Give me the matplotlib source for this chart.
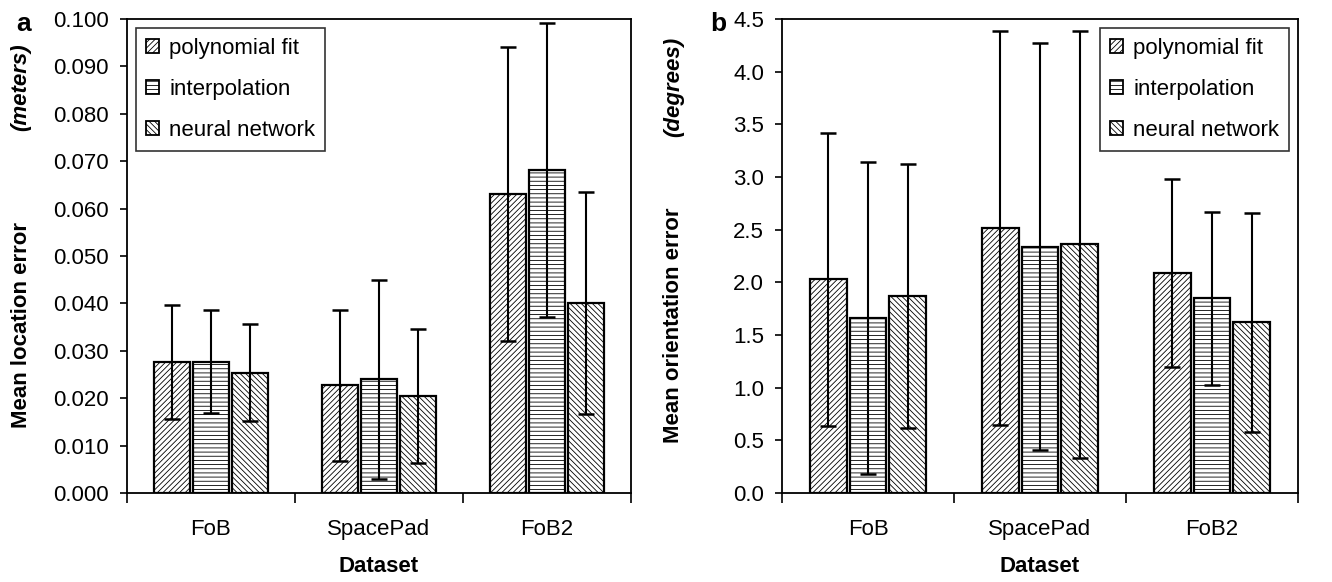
import matplotlib.pyplot as plt
import numpy as np

plt.rcParams['font.family'] = ['Liberation Sans', 'DejaVu Sans']
plt.rcParams['hatch.linewidth'] = 0.6

datasets = ['FoB', 'SpacePad', 'FoB2']
methods = ['polynomial fit', 'interpolation', 'neural network']
hatches = ['//////', '----', '\\\\\\\\\\\\']

# mean location error (meters) and its error bar half-length
loc_mean = [[0.0277, 0.0227, 0.0630],
            [0.0277, 0.0240, 0.0681],
            [0.0254, 0.0205, 0.0400]]
loc_err = [[0.0120, 0.0160, 0.0310],
           [0.0109, 0.0210, 0.0310],
           [0.0102, 0.0141, 0.0234]]

# mean orientation error (degrees)
ori_mean = [[2.03, 2.52, 2.09],
            [1.66, 2.34, 1.85],
            [1.87, 2.36, 1.62]]
ori_err = [[1.39, 1.87, 0.89],
           [1.48, 1.93, 0.82],
           [1.25, 2.03, 1.04]]

fig = plt.figure(figsize=(13.32, 5.82), dpi=100)
ax1 = fig.add_axes([127/1332, 89/582, 504/1332, 474/582])
ax2 = fig.add_axes([782/1332, 89/582, 516/1332, 474/582])


def draw(ax, means, errs, ymax, step, fmt, label, unit, legend_loc):
    x = np.arange(len(datasets))
    for i, m in enumerate(methods):
        ax.bar(x + (i - 1) * 0.232, means[i], width=0.215, color='white',
               edgecolor='black', linewidth=1.6, hatch=hatches[i], label=m,
               yerr=errs[i], error_kw=dict(ecolor='black', elinewidth=1.5,
                                           capsize=6, capthick=1.8))
    ax.set_xlim(-0.5, 2.5)
    ax.set_ylim(0, ymax)
    ax.set_yticks(np.arange(0, ymax + step / 2, step))
    ax.set_yticklabels([fmt % v for v in np.arange(0, ymax + step / 2, step)])
    ax.set_xticks([-0.5, 0.5, 1.5, 2.5])
    ax.set_xticklabels([])
    ax.set_xticks(x, minor=True)
    ax.set_xticklabels(datasets, minor=True)
    ax.tick_params(axis='x', which='minor', length=0, pad=19, labelsize=16)
    ax.tick_params(axis='x', which='major', length=7, width=1.2)
    ax.tick_params(axis='y', length=5, width=1.2, labelsize=16, pad=8)
    for s in ax.spines.values():
        s.set_linewidth(1.3)
    ax.set_xlabel('Dataset', fontsize=16, fontweight='bold', labelpad=11)
    leg = ax.legend(loc=legend_loc, fontsize=16, frameon=True, fancybox=False,
                    edgecolor='black', handlelength=0.6, handleheight=0.6,
                    handletextpad=0.45, labelspacing=0.9, borderpad=0.45,
                    borderaxespad=0.4)
    leg.get_frame().set_linewidth(1.2)
    for h in leg.legend_handles:
        h.set_linewidth(1.3)
    ax.text(-0.21, 0.354, label, transform=ax.transAxes, rotation=90,
            fontsize=16, fontweight='bold', ha='center', va='center')
    ax.text(-0.21, 0.857, unit, transform=ax.transAxes, rotation=90,
            fontsize=16, fontweight='bold', style='italic', ha='center', va='center')


draw(ax1, loc_mean, loc_err, 0.100, 0.010, '%.3f', 'Mean location error',
     '(meters)', 'upper left')
draw(ax2, ori_mean, ori_err, 4.5, 0.5, '%.1f', 'Mean orientation error',
     '(degrees)', 'upper right')

fig.text(16/1332, 1 - 24/582, 'a', fontsize=19, fontweight='bold', va='center')
fig.text(710/1332, 1 - 24/582, 'b', fontsize=19, fontweight='bold', va='center')

fig.savefig('out.png', dpi=100)
